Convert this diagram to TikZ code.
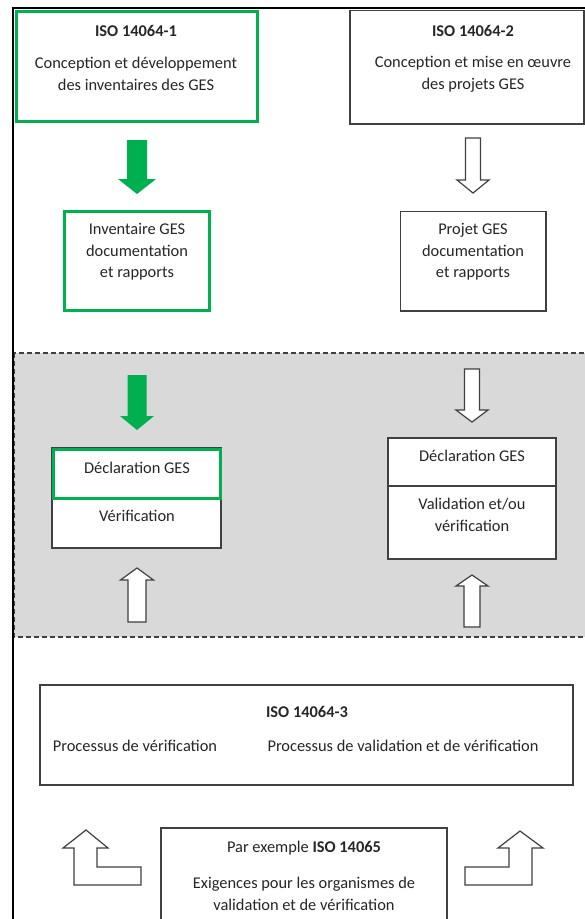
\documentclass[tikz,border=0pt]{standalone}
\usepackage{fontspec}
\setmainfont{Carlito}
\usetikzlibrary{fit}
\definecolor{ggreen}{RGB}{0,176,80}
\definecolor{regfill}{RGB}{217,217,217}
\definecolor{lineg}{RGB}{64,64,64}
\definecolor{txtg}{RGB}{38,38,38}
\newcommand{\blockarrow}[7]{%
  \path[#1] ({#2-#6},#3) -- ({#2+#6},#3) -- ({#2+#6},#4) -- ({#2+#7},#4) -- (#2,#5) -- ({#2-#7},#4) -- ({#2-#6},#4) -- cycle;}
\begin{document}
\begin{tikzpicture}[x=1pt,y=-1pt,
  every node/.style={font=\fontsize{16.4}{21.5}\selectfont, text=txtg},
  txt/.style={align=center, inner sep=0pt},
  greenbox/.style={draw=ggreen, line width=3pt, fill=white, inner sep=0pt},
  plainbox/.style={draw=lineg, line width=1.3pt, fill=white, inner sep=0pt},
  greenarr/.style={fill=ggreen},
  whitearr/.style={fill=white, draw=lineg, line width=1.2pt, line join=miter},
  region/.style={fill=regfill, draw=lineg, line width=1.2pt, dash pattern=on 5pt off 3pt}]
\useasboundingbox (0,0) rectangle (585,919);
\fill[white] (0,0) rectangle (585,919);
% grey region
\path[region] (14,353) rectangle (595,637);
% top boxes
\node[greenbox, fit={(16.5,11.5) (257,121)}] (b1) {};
\node[plainbox, fit={(350,10.5) (584,124)}] (b2) {};
\node[txt, font=\fontsize{16.4}{21.5}\selectfont\bfseries] (t1) at (136,31) {ISO 14064-1};
\node[txt] (t1b) at (136,74) {Conception et développement\\des inventaires des GES};
\node[txt, font=\fontsize{16.4}{21.5}\selectfont\bfseries] (t2) at (473,31) {ISO 14064-2};
\node[txt] (t2b) at (473,74) {Conception et mise en œuvre\\des projets GES};
% arrows top
\blockarrow{greenarr}{137}{140}{179}{194}{10}{19}
\blockarrow{whitearr}{473}{138}{180}{193}{7.5}{16}
% second row boxes
\node[greenbox, fit={(64,211.5) (209.5,310.5)}] (b3) {};
\node[plainbox, fit={(400.5,211.5) (546,311)}] (b4) {};
\node[txt] (t3) at (137,252) {Inventaire GES\\documentation\\et rapports};
\node[txt] (t4) at (473,252) {Projet GES\\documentation\\et rapports};
% arrows in region
\blockarrow{greenarr}{137}{375}{416}{430}{9.5}{17}
\blockarrow{whitearr}{472}{369}{410}{422}{7.5}{16}
% left stack
\node[plainbox, fit={(52,448) (221,548)}] (b5) {};
\node[greenbox, fit={(53,449.5) (220,498)}] (b5a) {};
\node[txt] (t5a) at (137,468) {Déclaration GES};
\node[txt] (t5b) at (137,516) {Vérification};
% right stack
\node[plainbox, fit={(388,438) (556,559)}] (b6) {};
\draw[lineg, line width=1.3pt] (b6.west |- 0,486) -- (b6.east |- 0,486);
\node[txt] (t6a) at (472,456) {Déclaration GES};
\node[txt] (t6b) at (472,515) {Validation et/ou\\vérification};
% up arrows
\blockarrow{whitearr}{137}{622}{580}{568}{9}{16.5}
\blockarrow{whitearr}{472}{627}{586}{575}{8}{16}
% ISO 14064-3
\node[plainbox, fit={(40,685) (573,785)}] (b7) {};
\node[txt, font=\fontsize{16.4}{21.5}\selectfont\bfseries] (t7) at (307,712) {ISO 14064-3};
\node[txt] (t7a) at (135,746) {Processus de vérification};
\node[txt] (t7b) at (403,746) {Processus de validation et de vérification};
% bottom box
\node[plainbox, fit={(161,828) (447,930)}] (b8) {};
\node[txt] (t8a) at (304,848) {Par exemple \textbf{ISO 14065}};
\node[txt] (t8b) at (304,894) {Exigences pour les organismes de\\validation et de vérification};
% bent arrows
\path[whitearr] (74,885) -- (74,848) -- (63,848) -- (86,830) -- (108,848) -- (97,848) -- (97,867) -- (141,867) -- (141,885) -- cycle;
\path[whitearr] (465,867) -- (509,867) -- (509,848) -- (498,848) -- (520,831) -- (543,848) -- (532,848) -- (532,885) -- (465,885) -- cycle;
% frame
\draw[black, line width=2.5pt] (13,925) -- (13,8) -- (590,8);
\end{tikzpicture}
\end{document}
